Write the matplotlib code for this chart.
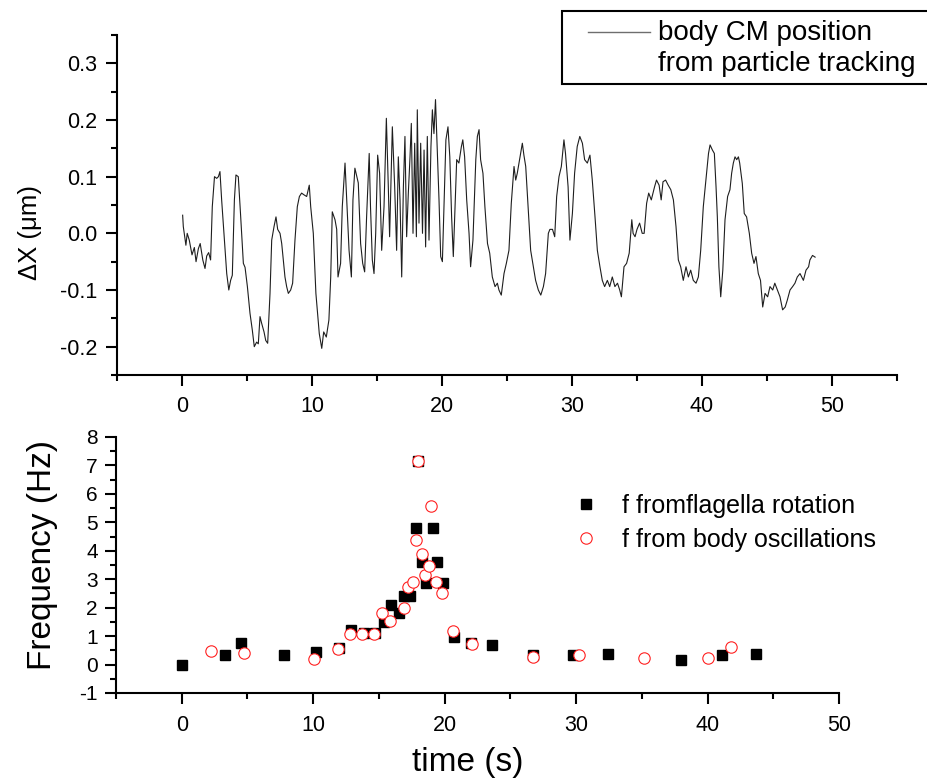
import matplotlib
matplotlib.use("Agg")
import matplotlib.pyplot as plt
from matplotlib.ticker import MultipleLocator, FixedLocator
from matplotlib.lines import Line2D
from matplotlib.patches import Rectangle

plt.rcParams['font.family'] = ['Liberation Sans', 'DejaVu Sans']
plt.rcParams['axes.unicode_minus'] = False

# ---- body centre-of-mass displacement (upper panel) ----
time_track = [
    0.05, 0.1, 0.3, 0.4, 0.56, 0.77, 0.95, 1.08, 1.26, 1.4, 1.6, 1.77, 1.9, 2.05, 2.2,
    2.33, 2.5, 2.67, 2.8, 2.92, 3.05, 3.23, 3.44, 3.6, 3.74, 3.87, 4.03, 4.15, 4.33,
    4.5, 4.72, 4.85, 5.03, 5.23, 5.41, 5.56, 5.74, 5.87, 6.0, 6.13, 6.31, 6.44, 6.59,
    6.77, 6.9, 7.08, 7.23, 7.36, 7.54, 7.67, 7.79, 7.92, 8.05, 8.18, 8.36, 8.51, 8.69,
    8.87, 9.03, 9.2, 9.38, 9.59, 9.79, 9.9, 10.1, 10.3, 10.56, 10.75, 10.9, 11.1, 11.3,
    11.44, 11.56, 11.77, 11.9, 12.0, 12.2, 12.33, 12.54, 12.72, 12.85, 13.03, 13.15,
    13.3, 13.56, 13.74, 13.9, 14.05, 14.2, 14.4, 14.5, 14.64, 14.77, 14.9, 15.05, 15.2,
    15.36, 15.54, 15.72, 15.87, 15.97, 16.18, 16.36, 16.51, 16.64, 16.77, 16.9, 17.03,
    17.15, 17.28, 17.41, 17.54, 17.64, 17.77, 17.9, 18.03, 18.1, 18.23, 18.36, 18.5,
    18.62, 18.74, 18.87, 19.0, 19.15, 19.26, 19.38, 19.5, 19.64, 19.77, 19.9, 20.03,
    20.15, 20.3, 20.46, 20.6, 20.74, 20.87, 21.0, 21.13, 21.3, 21.49, 21.6, 21.74, 21.9,
    22.08, 22.2, 22.38, 22.6, 22.72, 22.85, 22.97, 23.15, 23.3, 23.5, 23.67, 23.87,
    24.08, 24.26, 24.38, 24.56, 24.77, 24.95, 25.15, 25.33, 25.54, 25.67, 25.79, 25.92,
    26.05, 26.18, 26.3, 26.44, 26.62, 26.82, 27.03, 27.2, 27.41, 27.6, 27.8, 27.97,
    28.18, 28.3, 28.5, 28.67, 28.82, 29.0, 29.18, 29.38, 29.5, 29.7, 29.84, 30.03, 30.2,
    30.4, 30.6, 30.8, 30.97, 31.18, 31.38, 31.56, 31.77, 31.95, 32.15, 32.33, 32.51,
    32.72, 32.9, 33.1, 33.3, 33.5, 33.67, 33.8, 34.0, 34.2, 34.4, 34.6, 34.7, 34.85,
    35.0, 35.2, 35.4, 35.55, 35.74, 35.9, 36.1, 36.35, 36.5, 36.7, 36.86, 37.0, 37.2,
    37.4, 37.6, 37.8, 38.0, 38.18, 38.36, 38.56, 38.77, 38.95, 39.13, 39.33, 39.54,
    39.72, 39.9, 40.1, 40.3, 40.5, 40.62, 40.8, 40.95, 41.08, 41.18, 41.3, 41.44, 41.6,
    41.77, 41.97, 42.15, 42.28, 42.41, 42.54, 42.67, 42.8, 42.9, 43.1, 43.25, 43.43,
    43.64, 43.82, 44.0, 44.15, 44.33, 44.5, 44.67, 44.85, 45.05, 45.23, 45.44, 45.6,
    45.8, 46.0, 46.2, 46.4, 46.56, 46.77, 46.97, 47.15, 47.33, 47.54, 47.8, 48.0, 48.2,
    48.3, 48.5, 48.7,
]
dx_track = [
    0.032, 0.012, -0.021, 0.0, -0.012, -0.038, -0.025, -0.05, -0.027, -0.018, -0.047,
    -0.062, -0.04, -0.034, -0.047, 0.047, 0.1, 0.097, 0.1, 0.109, 0.059, 0.0, -0.071,
    -0.1, -0.083, -0.074, 0.059, 0.103, 0.1, 0.035, -0.053, -0.06, -0.094, -0.141,
    -0.171, -0.2, -0.192, -0.195, -0.147, -0.159, -0.174, -0.189, -0.194, -0.106,
    -0.012, 0.012, 0.029, 0.007, 0.0, -0.018, -0.047, -0.077, -0.094, -0.106, -0.1,
    -0.088, -0.012, 0.047, 0.065, 0.071, 0.068, 0.065, 0.085, 0.047, 0.0, -0.106,
    -0.177, -0.203, -0.174, -0.183, -0.153, -0.077, 0.038, 0.024, 0.007, -0.077,
    -0.053, 0.047, 0.124, 0.035, -0.03, -0.077, 0.059, 0.115, 0.089, -0.018, -0.053,
    -0.068, 0.029, 0.141, 0.047, -0.047, -0.071, 0.0, 0.138, 0.106, -0.03, 0.047,
    0.203, 0.082, -0.006, 0.188, 0.082, -0.03, 0.135, 0.059, -0.077, 0.082, 0.171,
    -0.006, 0.071, 0.135, 0.194, 0.0, 0.159, -0.006, 0.218, 0.018, 0.159, 0.0, 0.147,
    -0.024, 0.171, -0.012, 0.153, 0.218, 0.176, 0.236, 0.147, 0.059, -0.041, -0.05,
    0.047, 0.165, 0.188, 0.135, 0.029, -0.041, 0.047, 0.13, 0.124, 0.153, 0.165, 0.135,
    0.059, 0.0, -0.059, -0.012, 0.13, 0.171, 0.183, 0.13, 0.106, 0.047, -0.018, -0.035,
    -0.077, -0.094, -0.088, -0.1, -0.109, -0.071, -0.053, -0.03, 0.053, 0.118, 0.094,
    0.106, 0.124, 0.141, 0.159, 0.138, 0.118, 0.047, -0.03, -0.059, -0.083, -0.1,
    -0.109, -0.094, -0.071, 0.0, 0.007, 0.007, -0.006, 0.065, 0.1, 0.118, 0.165, 0.141,
    0.082, -0.012, 0.035, 0.106, 0.153, 0.171, 0.159, 0.13, 0.124, 0.138, 0.094, 0.029,
    -0.03, -0.059, -0.083, -0.094, -0.083, -0.094, -0.077, -0.094, -0.088, -0.1,
    -0.112, -0.059, -0.053, -0.035, 0.024, 0.0, -0.006, 0.007, 0.018, 0.0, 0.0, 0.053,
    0.071, 0.059, 0.082, 0.094, 0.085, 0.059, 0.091, 0.094, 0.085, 0.077, 0.059, 0.012,
    -0.047, -0.059, -0.083, -0.059, -0.077, -0.065, -0.083, -0.088, -0.077, -0.03,
    0.047, 0.094, 0.141, 0.156, 0.147, 0.141, 0.082, 0.029, -0.059, -0.112, -0.065,
    0.024, 0.065, 0.077, 0.106, 0.124, 0.135, 0.13, 0.135, 0.124, 0.088, 0.035, 0.029,
    0.0, -0.035, -0.053, -0.041, -0.071, -0.083, -0.13, -0.106, -0.112, -0.094, -0.1,
    -0.088, -0.1, -0.112, -0.135, -0.13, -0.118, -0.1, -0.094, -0.088, -0.077, -0.071,
    -0.083, -0.065, -0.059, -0.047, -0.039, -0.042,
]

# ---- frequencies (lower panel) ----
t_flagella = [0.0, 3.3, 4.5, 7.8, 10.2, 12.0, 12.9, 13.9, 14.7, 15.35, 15.9, 16.5,
              16.9, 17.4, 17.85, 18.0, 18.3, 18.6, 19.1, 19.4, 19.85, 20.75, 22.0,
              23.6, 26.75, 29.8, 32.4, 38.0, 41.1, 43.7]
f_flagella = [0.0, 0.33, 0.77, 0.33, 0.45, 0.57, 1.23, 1.1, 1.1, 1.49, 2.08, 1.83,
              2.4, 2.4, 4.81, 7.15, 3.61, 2.87, 4.81, 3.61, 2.88, 0.97, 0.76,
              0.67, 0.35, 0.33, 0.38, 0.17, 0.32, 0.38]

t_body = [2.2, 4.7, 10.05, 11.85, 12.77, 13.72, 14.65, 15.2, 15.87, 16.9, 17.2,
          17.62, 17.85, 17.96, 18.25, 18.52, 18.82, 19.0, 19.36, 19.77, 20.63,
          22.07, 26.7, 30.25, 35.2, 40.0, 41.76]
f_body = [0.48, 0.42, 0.18, 0.56, 1.07, 1.09, 1.06, 1.82, 1.54, 2.0, 2.71,
          2.89, 4.38, 7.17, 3.87, 3.14, 3.47, 5.59, 2.89, 2.52, 1.17,
          0.73, 0.26, 0.32, 0.23, 0.23, 0.62]

W, H = 928, 778
fig = plt.figure(figsize=(W / 100, H / 100), dpi=100)


def px_rect(left, top, right, bottom):
    return [left / W, 1 - bottom / H, (right - left) / W, (bottom - top) / H]


def style_axes(ax):
    for side in ('top', 'right'):
        ax.spines[side].set_visible(False)
    for side in ('left', 'bottom'):
        ax.spines[side].set_linewidth(1.5)
    ax.tick_params(which='major', direction='out', length=8, width=1.5)
    ax.tick_params(which='minor', direction='out', length=4.5, width=1.5)


# upper panel
ax1 = fig.add_axes(px_rect(117, 35, 897, 375))
ax1.plot(time_track, dx_track, color='#1e1e1e', lw=0.8)
ax1.set_xlim(-5, 55)
ax1.set_ylim(-0.25, 0.35)
style_axes(ax1)
ax1.xaxis.set_major_locator(FixedLocator([0, 10, 20, 30, 40, 50]))
ax1.xaxis.set_minor_locator(MultipleLocator(5))
ax1.yaxis.set_major_locator(FixedLocator([-0.2, -0.1, 0.0, 0.1, 0.2, 0.3]))
ax1.yaxis.set_minor_locator(MultipleLocator(0.05))
ax1.set_yticklabels(['-0.2', '-0.1', '0.0', '0.1', '0.2', '0.3'])
ax1.tick_params(axis='y', labelsize=15.5, pad=6)
ax1.tick_params(axis='x', labelsize=15.5, pad=7)
ax1.set_ylabel('ΔX (μm)', fontsize=18.5)
ax1.yaxis.set_label_coords(-0.096, 0.418)

# legend box for the upper panel
fig.add_artist(Rectangle((562 / W, 1 - 84 / H), (940 - 562) / W, 73 / H,
                         transform=fig.transFigure, facecolor='white',
                         edgecolor='black', lw=1.5, zorder=5))
fig.add_artist(Line2D([588 / W, 650 / W], [1 - 32 / H, 1 - 32 / H],
                      transform=fig.transFigure, color='#6e6e6e', lw=1.0, zorder=6))
fig.text(658 / W, 1 - 40 / H, 'body CM position', fontsize=20, va='baseline',
         ha='left', zorder=6)
fig.text(658 / W, 1 - 71 / H, 'from particle tracking', fontsize=20, va='baseline',
         ha='left', zorder=6)

# lower panel
ax2 = fig.add_axes(px_rect(116, 437, 839, 693))
ax2.plot(t_flagella, f_flagella, linestyle='none', marker='s', markersize=7.3,
         color='black', label='f fromflagella rotation')
ax2.plot(t_body, f_body, linestyle='none', marker='o', markersize=8.2,
         markerfacecolor='white', markeredgecolor='#ff2020', markeredgewidth=0.8,
         label='f from body oscillations')
ax2.set_xlim(-5, 50)
ax2.set_ylim(-1, 8)
style_axes(ax2)
ax2.xaxis.set_major_locator(FixedLocator([0, 10, 20, 30, 40, 50]))
ax2.xaxis.set_minor_locator(MultipleLocator(5))
ax2.yaxis.set_major_locator(MultipleLocator(1))
ax2.yaxis.set_minor_locator(MultipleLocator(0.5))
ax2.tick_params(axis='y', labelsize=15, pad=5)
ax2.tick_params(axis='x', labelsize=15.5, pad=8)
ax2.set_ylabel('Frequency (Hz)', fontsize=24)
ax2.yaxis.set_label_coords(-0.080, 0.539)
ax2.set_xlabel('time (s)', fontsize=24)
ax2.xaxis.set_label_coords(0.487, -0.211)

ax2.legend(loc='upper left', bbox_to_anchor=(573.5 / W, 1 - 494 / H),
           bbox_transform=fig.transFigure, frameon=False, fontsize=18,
           borderpad=0, borderaxespad=0, handlelength=1.0, handletextpad=0.95,
           labelspacing=0.38, numpoints=1)

fig.savefig('out.png', dpi=100)
